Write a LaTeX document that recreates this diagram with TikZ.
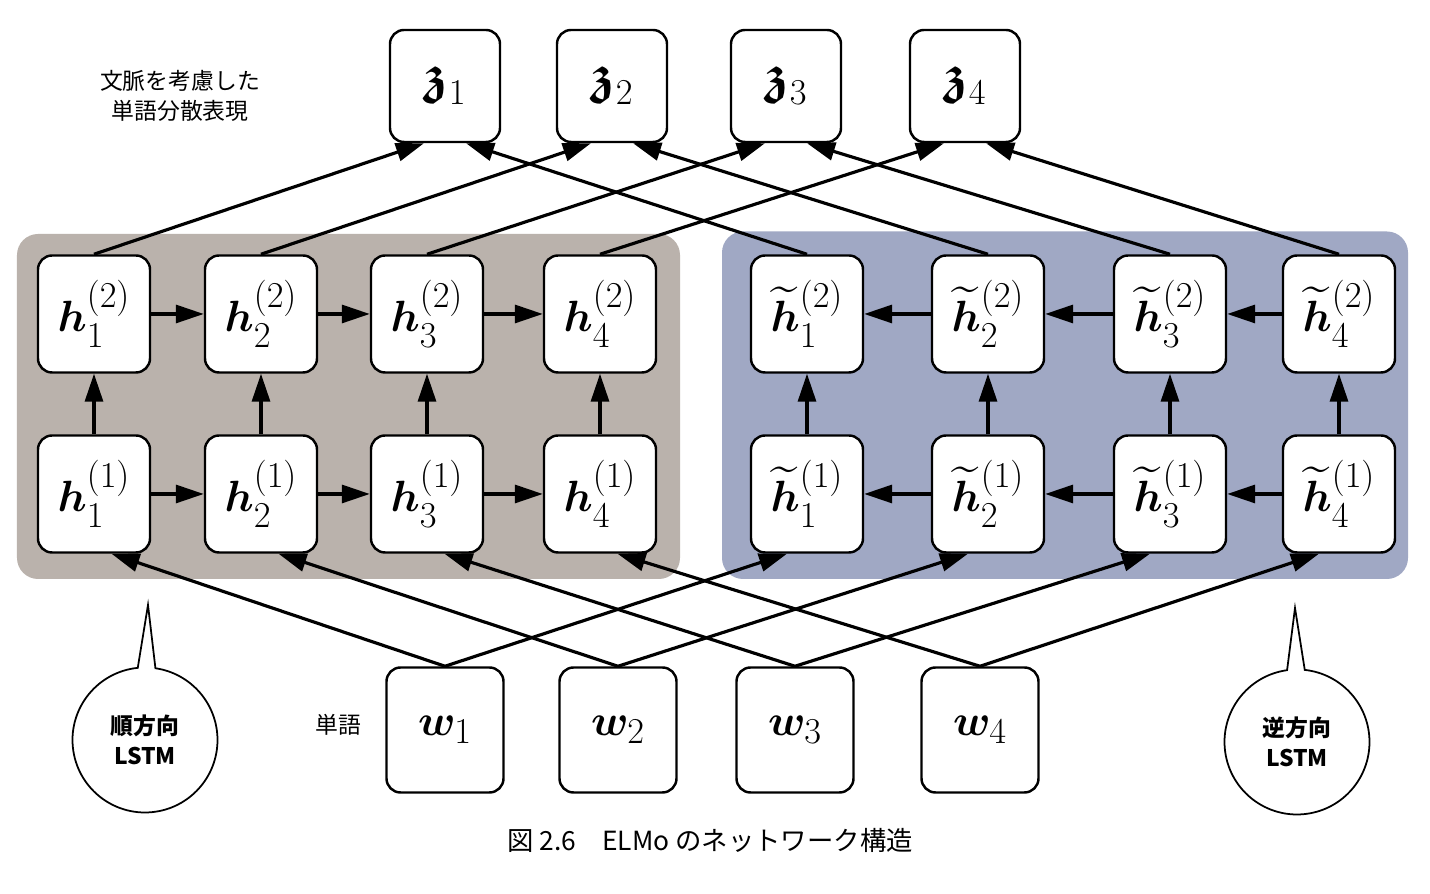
\documentclass[tikz,border=0pt]{standalone}
\usepackage{amsmath,amssymb,bm}
\usepackage{fontspec}
\newfontfamily\jpfont{Noto Sans CJK JP}
\usetikzlibrary{arrows.meta,shapes.callouts}

\definecolor{fwdgray}{RGB}{186,178,172}
\definecolor{bwdblue}{RGB}{160,168,196}

\newcommand{\fwdh}[2]{\bm{h}_{#1}^{(#2)}}
\newcommand{\bwdh}[2]{\widetilde{\bm{h}}_{#1}^{(#2)}}

\tikzstyle{cell}=[draw, line width=1.4pt, fill=white, rounded corners=8pt, minimum width=2.24cm, minimum height=2.34cm, inner sep=0pt, font=\fontsize{28}{32}\selectfont]
\tikzstyle{msg}=[-{Triangle[length=0.56cm, width=0.36cm]}, line width=1.8pt]
\tikzstyle{bubble}=[ellipse callout, draw, line width=1pt, fill=white, minimum width=2.9cm, minimum height=2.9cm, callout pointer arc=14, align=center, font=\jpfont\bfseries\fontsize{13}{17}\selectfont]
\tikzstyle{note}=[align=center, font=\jpfont\fontsize{13}{17}\selectfont]

\begin{document}
\begin{tikzpicture}
    \useasboundingbox (0, 0) rectangle (28.6, 17.88);
    \fill[white] (0, 0) rectangle (28.6, 17.88);
    % the two LSTM blocks
    \fill[fwdgray, rounded corners=12pt] (0.34, 6.3) rectangle (13.6, 13.2);
    \fill[bwdblue, rounded corners=12pt] (14.44, 6.3) rectangle (28.16, 13.25);

    \node[cell, minimum width=2.2cm, minimum height=2.24cm, font=\fontsize{31}{34}\selectfont] (ctx1) at (8.9, 16.16) {$\bm{\mathfrak{z}}_1$};
    \node[cell, minimum width=2.2cm, minimum height=2.24cm, font=\fontsize{31}{34}\selectfont] (ctx2) at (12.24, 16.16) {$\bm{\mathfrak{z}}_2$};
    \node[cell, minimum width=2.2cm, minimum height=2.24cm, font=\fontsize{31}{34}\selectfont] (ctx3) at (15.72, 16.16) {$\bm{\mathfrak{z}}_3$};
    \node[cell, minimum width=2.2cm, minimum height=2.24cm, font=\fontsize{31}{34}\selectfont] (ctx4) at (19.3, 16.16) {$\bm{\mathfrak{z}}_4$};

    \node[cell] (fwdup1) at (1.88, 11.6) {$\fwdh{1}{2}$};
    \node[cell] (fwdup2) at (5.22, 11.6) {$\fwdh{2}{2}$};
    \node[cell] (fwdup3) at (8.54, 11.6) {$\fwdh{3}{2}$};
    \node[cell] (fwdup4) at (12.0, 11.6) {$\fwdh{4}{2}$};
    \node[cell] (fwdlow1) at (1.88, 8.0) {$\fwdh{1}{1}$};
    \node[cell] (fwdlow2) at (5.22, 8.0) {$\fwdh{2}{1}$};
    \node[cell] (fwdlow3) at (8.54, 8.0) {$\fwdh{3}{1}$};
    \node[cell] (fwdlow4) at (12.0, 8.0) {$\fwdh{4}{1}$};

    \node[cell] (bwdup1) at (16.14, 11.6) {$\bwdh{1}{2}$};
    \node[cell] (bwdup2) at (19.76, 11.6) {$\bwdh{2}{2}$};
    \node[cell] (bwdup3) at (23.4, 11.6) {$\bwdh{3}{2}$};
    \node[cell] (bwdup4) at (26.78, 11.6) {$\bwdh{4}{2}$};
    \node[cell] (bwdlow1) at (16.14, 8.0) {$\bwdh{1}{1}$};
    \node[cell] (bwdlow2) at (19.76, 8.0) {$\bwdh{2}{1}$};
    \node[cell] (bwdlow3) at (23.4, 8.0) {$\bwdh{3}{1}$};
    \node[cell] (bwdlow4) at (26.78, 8.0) {$\bwdh{4}{1}$};

    \node[cell, minimum width=2.34cm, minimum height=2.5cm, font=\fontsize{31}{34}\selectfont] (word1) at (8.9, 3.28) {$\bm{w}_1$};
    \node[cell, minimum width=2.34cm, minimum height=2.5cm, font=\fontsize{31}{34}\selectfont] (word2) at (12.36, 3.28) {$\bm{w}_2$};
    \node[cell, minimum width=2.34cm, minimum height=2.5cm, font=\fontsize{31}{34}\selectfont] (word3) at (15.9, 3.28) {$\bm{w}_3$};
    \node[cell, minimum width=2.34cm, minimum height=2.5cm, font=\fontsize{31}{34}\selectfont] (word4) at (19.6, 3.28) {$\bm{w}_4$};

    % labels
    \node[note] (ctxlabel) at (3.6, 15.96) {文脈を考慮した\\単語分散表現};
    \node[note] (wordlabel) at (6.76, 3.38) {単語};
    \node[bubble, callout absolute pointer={(2.96, 5.78)}] (fwdnote) at (2.9, 3.08) {順方向\\LSTM};
    \node[bubble, callout absolute pointer={(25.9, 5.72)}] (bwdnote) at (25.94, 3.04) {逆方向\\LSTM};
    \node[note, font=\jpfont\fontsize{15}{18}\selectfont] (caption) at (14.2, 1.08) {図 2.6　ELMo のネットワーク構造};

    % recurrent and stacked links
    \draw[msg] (fwdup1) -- (fwdup2);
    \draw[msg] (fwdup2) -- (fwdup3);
    \draw[msg] (fwdup3) -- (fwdup4);
    \draw[msg] (fwdlow1) -- (fwdlow2);
    \draw[msg] (fwdlow2) -- (fwdlow3);
    \draw[msg] (fwdlow3) -- (fwdlow4);
    \draw[msg] (bwdup2) -- (bwdup1);
    \draw[msg] (bwdup3) -- (bwdup2);
    \draw[msg] (bwdup4) -- (bwdup3);
    \draw[msg] (bwdlow2) -- (bwdlow1);
    \draw[msg] (bwdlow3) -- (bwdlow2);
    \draw[msg] (bwdlow4) -- (bwdlow3);
    \draw[msg] (fwdlow1) -- (fwdup1);
    \draw[msg] (fwdlow2) -- (fwdup2);
    \draw[msg] (fwdlow3) -- (fwdup3);
    \draw[msg] (fwdlow4) -- (fwdup4);
    \draw[msg] (bwdlow1) -- (bwdup1);
    \draw[msg] (bwdlow2) -- (bwdup2);
    \draw[msg] (bwdlow3) -- (bwdup3);
    \draw[msg] (bwdlow4) -- (bwdup4);

    % words into both directions
    \draw[msg] (word1.north) -- ([xshift=0.35cm]fwdlow1.south);
    \draw[msg] (word2.north) -- ([xshift=0.35cm]fwdlow2.south);
    \draw[msg] (word3.north) -- ([xshift=0.35cm]fwdlow3.south);
    \draw[msg] (word4.north) -- ([xshift=0.35cm]fwdlow4.south);
    \draw[msg] (word1.north) -- ([xshift=-0.4cm]bwdlow1.south);
    \draw[msg] (word2.north) -- ([xshift=-0.4cm]bwdlow2.south);
    \draw[msg] (word3.north) -- ([xshift=-0.4cm]bwdlow3.south);
    \draw[msg] (word4.north) -- ([xshift=-0.4cm]bwdlow4.south);

    % top layers into z
    \draw[msg] (fwdup1.north) -- ([xshift=-0.42cm]ctx1.south);
    \draw[msg] (fwdup2.north) -- ([xshift=-0.42cm]ctx2.south);
    \draw[msg] (fwdup3.north) -- ([xshift=-0.42cm]ctx3.south);
    \draw[msg] (fwdup4.north) -- ([xshift=-0.42cm]ctx4.south);
    \draw[msg] (bwdup1.north) -- ([xshift=0.42cm]ctx1.south);
    \draw[msg] (bwdup2.north) -- ([xshift=0.42cm]ctx2.south);
    \draw[msg] (bwdup3.north) -- ([xshift=0.42cm]ctx3.south);
    \draw[msg] (bwdup4.north) -- ([xshift=0.42cm]ctx4.south);
\end{tikzpicture}
\end{document}
